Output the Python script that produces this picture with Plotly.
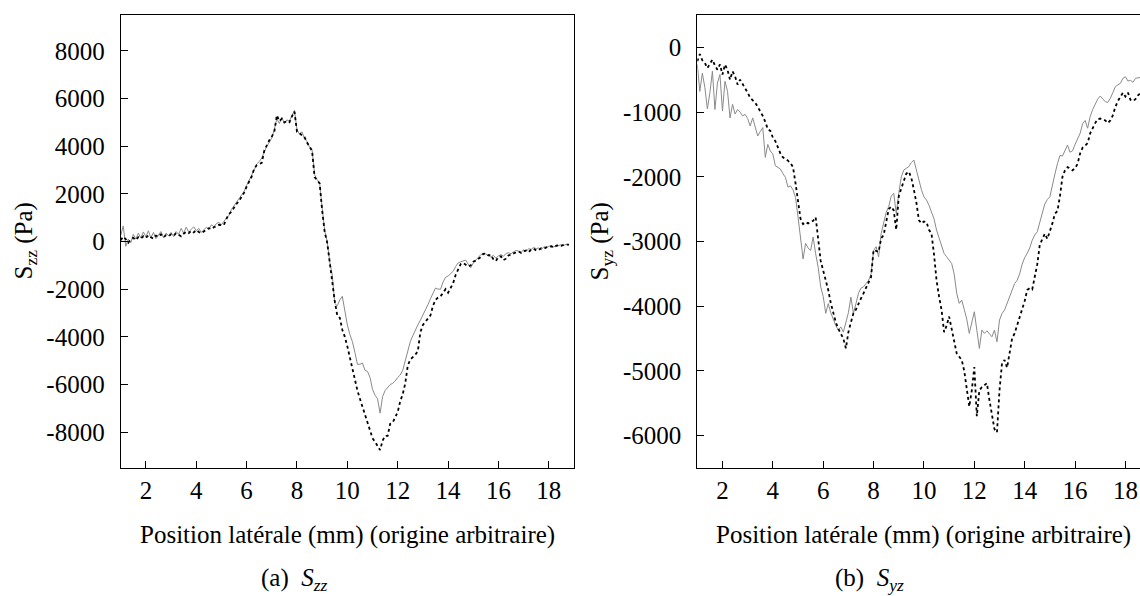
import plotly.graph_objects as go

# Shared sampling positions (mm)
pos_mm = [
    1.0, 1.1, 1.2, 1.3, 1.4, 1.5, 1.6, 1.7, 1.8, 1.9,
    2.0, 2.1, 2.2, 2.3, 2.4, 2.5, 2.6, 2.7, 2.8, 2.9,
    3.0, 3.1, 3.2, 3.3, 3.4, 3.5, 3.6, 3.7, 3.8, 3.9,
    4.0, 4.1, 4.2, 4.3, 4.4, 4.5, 4.6, 4.7, 4.8, 4.9,
    5.0, 5.1, 5.2, 5.3, 5.4, 5.5, 5.6, 5.7, 5.8, 5.9,
    6.0, 6.1, 6.2, 6.3, 6.4, 6.5, 6.6, 6.7, 6.8, 6.9,
    7.0, 7.1, 7.2, 7.3, 7.4, 7.5, 7.6, 7.7, 7.8, 7.9,
    8.0, 8.1, 8.2, 8.3, 8.4, 8.5, 8.6, 8.7, 8.8, 8.9,
    9.0, 9.1, 9.2, 9.3, 9.4, 9.5, 9.6, 9.7, 9.8, 9.9,
    10.0, 10.1, 10.2, 10.3, 10.4, 10.5, 10.6, 10.7, 10.8, 10.9,
    11.0, 11.1, 11.2, 11.3, 11.4, 11.5, 11.6, 11.7, 11.8, 11.9,
    12.0, 12.1, 12.2, 12.3, 12.4, 12.5, 12.6, 12.7, 12.8, 12.9,
    13.0, 13.1, 13.2, 13.3, 13.4, 13.5, 13.6, 13.7, 13.8, 13.9,
    14.0, 14.1, 14.2, 14.3, 14.4, 14.5, 14.6, 14.7, 14.8, 14.9,
    15.0, 15.1, 15.2, 15.3, 15.4, 15.5, 15.6, 15.7, 15.8, 15.9,
    16.0, 16.1, 16.2, 16.3, 16.4, 16.5, 16.6, 16.7, 16.8, 16.9,
    17.0, 17.1, 17.2, 17.3, 17.4, 17.5, 17.6, 17.7, 17.8, 17.9,
    18.0, 18.1, 18.2, 18.3, 18.4, 18.5, 18.6, 18.7, 18.8,
]

# (a) S_zz, dotted black curve (Pa)
szz_dotted = [
    50, 200, 100, -50, 80, 150, 60, 180, 120, 220,
    150, 260, 180, 120, 250, 200, 300, 180, 260, 220,
    300, 240, 350, 280, 220, 330, 400, 350, 450, 380,
    480, 400, 350, 420, 500, 560, 520, 600, 640, 700,
    680, 700, 950, 1150, 1250, 1420, 1580, 1700, 1880, 2050,
    2300, 2500, 2720, 3050, 3200, 3250, 3300, 3800, 4050, 4250,
    4400, 4600, 5300, 5050, 5150, 5000, 5050, 5000, 5250, 5450,
    4600, 4550, 4450, 4380, 4150, 3950, 3800, 2700, 2550, 2440,
    1300, 400, -50, -900, -1500, -2500, -3100, -3200, -3700, -4000,
    -4400, -4900, -5350, -5900, -6250, -6600, -6950, -7300, -7650, -8000,
    -8250, -8400, -8550, -8750, -8350, -8150, -8150, -7650, -7600, -7350,
    -7150, -6700, -6400, -5950, -5200, -4950, -4850, -4750, -4600, -3800,
    -3500, -3350, -3200, -3100, -2700, -2450, -2350, -2300, -2150, -2000,
    -2150, -1950, -1750, -1400, -1150, -950, -900, -980, -1050, -1000,
    -850, -800, -720, -650, -520, -500, -580, -560, -750, -820,
    -640, -620, -780, -720, -580, -560, -500, -450, -420, -480,
    -400, -380, -450, -330, -300, -380, -350, -280, -300, -250,
    -230, -200, -260, -180, -150, -180, -140, -120, -130,
]

# (a) S_zz, solid grey curve (Pa)
szz_solid = [
    250, 650, -200, 100, -50, 300, 100, 350, 150, 400,
    200, 450, 150, 380, 120, 300, 420, 150, 350, 250,
    380, 200, 420, 300, 550, 350, 600, 400, 500, 620,
    450, 550, 380, 480, 600, 520, 700, 620, 750, 800,
    700, 850, 1000, 1100, 1350, 1500, 1600, 1750, 1900, 2100,
    2350, 2550, 2800, 3000, 3250, 3350, 3500, 3750, 4000, 4150,
    4350, 4700, 5150, 4950, 5200, 4950, 5100, 5050, 5300, 5500,
    4700, 4500, 4600, 4300, 4200, 3950, 3850, 2800, 2600, 2450,
    1400, 450, 0, -850, -1400, -2600, -2700, -2450, -2300, -3000,
    -3500, -3900, -4200, -4650, -5150, -5150, -5100, -5400, -5450, -5700,
    -6200, -6450, -6600, -7200, -6500, -6250, -6100, -6000, -5950, -5850,
    -5700, -5600, -5400, -5000, -4600, -4200, -3950, -3700, -3500, -3300,
    -3100, -2850, -2650, -2400, -2150, -1950, -2000, -2000, -1700, -1500,
    -1450, -1350, -1250, -1050, -900, -850, -800, -780, -950, -1100,
    -900, -780, -700, -550, -500, -520, -600, -650, -580, -700,
    -600, -550, -620, -500, -470, -520, -430, -380, -400, -450,
    -350, -420, -300, -330, -250, -300, -270, -350, -220, -250,
    -200, -180, -230, -150, -170, -130, -160, -120, -140,
]

# (b) S_yz, dotted black curve (Pa)
syz_dotted = [
    -215, -105, -200, -240, -320, -250, -190, -280, -345, -265,
    -420, -265, -350, -500, -370, -450, -575, -500, -560, -625,
    -700, -780, -820, -855, -920, -985, -1060, -1150, -1266, -1290,
    -1395, -1450, -1540, -1640, -1700, -1720, -1750, -1790, -1850, -2100,
    -2370, -2650, -2730, -2700, -2720, -2700, -2680, -2625, -2980, -3300,
    -3450, -3600, -3750, -3950, -4100, -4250, -4350, -4420, -4500, -4650,
    -4400, -4250, -4110, -4050, -3950, -3880, -3800, -3720, -3650, -3550,
    -3130, -3140, -3160, -2950, -2900, -2700, -2500, -2460, -2520, -2820,
    -2300, -2180, -2050, -1950, -1920, -2020, -2200, -2400, -2670, -2720,
    -2690, -2700, -2820, -2880, -3200, -3600, -3850, -4060, -4400, -4300,
    -4160, -4370, -4550, -4730, -4780, -4830, -5000, -5300, -5550, -5300,
    -4940, -5700, -5300, -5250, -5220, -5190, -5450, -5700, -5900, -5950,
    -5300, -4880, -4830, -4950, -4700, -4500, -4420, -4300, -4150, -4050,
    -3920, -3750, -3720, -3740, -3550, -3350, -3050, -2950, -2880, -2960,
    -2850, -2720, -2570, -2530, -2300, -2000, -1900, -1850, -1870, -1900,
    -1870, -1800, -1640, -1550, -1520, -1480, -1330, -1240, -1170, -1110,
    -1100, -1110, -1130, -1170, -1130, -1050, -920, -830, -760, -700,
    -760, -700, -810, -830, -800, -740, -710, -700, -690,
]

# (b) S_yz, solid grey curve (Pa)
syz_solid = [
    -265, -680, -400, -620, -950, -700, -370, -960, -550, -420,
    -985, -525, -680, -1090, -880, -1030, -960, -1000, -1060, -1035,
    -1100, -1215, -1090, -1240, -1370, -1300, -1240, -1700, -1500, -1600,
    -1650, -1830, -1850, -1880, -1950, -2010, -2160, -2140, -2200, -2320,
    -2620, -2980, -3270, -3030, -3100, -3140, -2930, -3190, -3400, -3700,
    -3850, -4110, -3960, -4100, -4210, -4300, -4370, -4320, -4400, -4270,
    -4100, -3860, -4110, -3960, -3800, -3720, -3700, -3650, -3600, -3500,
    -3140, -3080, -3240, -2880, -2700, -2550, -2460, -2300, -2256, -2565,
    -2256, -2000, -1895, -1870, -1843, -1780, -1741, -1895, -2050, -2200,
    -2310, -2359, -2440, -2540, -2650, -2823, -2950, -3060, -3184, -3236,
    -3280, -3339, -3500, -3800, -3956, -3905, -4050, -4200, -4420, -4266,
    -4085, -4369, -4652, -4369, -4420, -4380, -4420, -4472, -4369, -4550,
    -4214, -4111, -4060, -3956, -3850, -3750, -3650, -3600, -3500, -3350,
    -3250, -3184, -3100, -2980, -2900, -2850, -2680, -2560, -2420, -2350,
    -2310, -2120, -1960, -1800, -1670, -1680, -1600, -1510, -1620, -1600,
    -1500, -1420, -1330, -1180, -1130, -1250, -1070, -960, -865, -800,
    -752, -790, -840, -850, -788, -700, -608, -580, -556, -480,
    -453, -520, -510, -540, -479, -470, -464, -470, -460,
]

x_ticks = [2, 4, 6, 8, 10, 12, 14, 16, 18]
szz_ticks = [-8000, -6000, -4000, -2000, 0, 2000, 4000, 6000, 8000]
syz_ticks = [-6000, -5000, -4000, -3000, -2000, -1000, 0]

x_title = "Position latérale (mm) (origine arbitraire)"
FONT = "'Liberation Serif', 'Times New Roman', Times, 'DejaVu Serif', serif"
W, H = 1140, 596
TOP, BOTTOM = 15, 468
L1, R1 = 120.7, 574.0
L2 = 697.3

fig = go.Figure()
fig.add_trace(go.Scatter(x=pos_mm, y=szz_solid, mode="lines",
                         line=dict(color="#8a8a8a", width=1), xaxis="x", yaxis="y"))
fig.add_trace(go.Scatter(x=pos_mm, y=szz_dotted, mode="lines",
                         line=dict(color="black", width=1.8, dash="dot"), xaxis="x", yaxis="y"))
fig.add_trace(go.Scatter(x=pos_mm, y=syz_solid, mode="lines",
                         line=dict(color="#8a8a8a", width=1), xaxis="x2", yaxis="y2"))
fig.add_trace(go.Scatter(x=pos_mm, y=syz_dotted, mode="lines",
                         line=dict(color="black", width=1.8, dash="dot"), xaxis="x2", yaxis="y2"))

axis_common = dict(showgrid=False, zeroline=False, showline=True, linecolor="black",
                   linewidth=1, ticks="inside", ticklen=7, tickwidth=1, tickcolor="black",
                   tickfont=dict(family=FONT, size=25, color="black"), tickmode="array")

fig.update_layout(
    width=W, height=H,
    margin=dict(l=0, r=0, t=TOP, b=H - BOTTOM, pad=0),
    paper_bgcolor="white", plot_bgcolor="white",
    showlegend=False,
    font=dict(family=FONT, color="black"),
    xaxis=dict(domain=[L1 / W, R1 / W], range=[1, 19], mirror=True,
               tickvals=x_ticks, ticktext=[str(v) for v in x_ticks],
               ticklabelstandoff=0, anchor="y", **axis_common),
    yaxis=dict(domain=[0, 1], range=[-9500, 9500], mirror=True,
               tickvals=szz_ticks, ticktext=[str(v) for v in szz_ticks],
               ticklabelstandoff=10, anchor="x", **axis_common),
    xaxis2=dict(domain=[L2 / W, 1.0], range=[1, 1 + (W - L2) / ((R1 - L1) / 18)], mirror=True,
                tickvals=x_ticks, ticktext=[str(v) for v in x_ticks],
                ticklabelstandoff=0, anchor="y2", **axis_common),
    yaxis2=dict(domain=[0, 1], range=[-6500, 500], mirror=False,
                tickvals=syz_ticks, ticktext=[str(v) for v in syz_ticks],
                ticklabelstandoff=10, anchor="x2", **axis_common),
)

def py(px):
    return (BOTTOM - px) / (BOTTOM - TOP)

annots = [
    dict(text=x_title, x=(L1 + R1) / 2 / W, y=py(535)),
    dict(text=x_title, x=(L2 + L2 + (R1 - L1)) / 2 / W, y=py(535)),
    dict(text="S<sub>zz</sub> (Pa)", x=25 / W, y=py((TOP + BOTTOM) / 2), textangle=-90),
    dict(text="S<sub>yz</sub> (Pa)", x=601 / W, y=py((TOP + BOTTOM) / 2), textangle=-90),
]
for a in annots:
    fig.add_annotation(xref="paper", yref="paper", showarrow=False,
                       xanchor="center", yanchor="middle",
                       font=dict(family=FONT, size=25, color="black"), **a)

captions = [
    dict(text="(a)&nbsp;&nbsp;<i>S</i><sub><i>zz</i></sub>", x=294 / W),
    dict(text="(b)&nbsp;&nbsp;<i>S</i><sub><i>yz</i></sub>", x=869 / W),
]
for c in captions:
    fig.add_annotation(xref="paper", yref="paper", showarrow=False, y=py(579),
                       xanchor="center", yanchor="middle",
                       font=dict(family=FONT, size=25, color="black"), **c)

fig.write_html(
    "out.html",
    config={"displayModeBar": False},
    post_script="document.body.style.margin='0';document.body.style.overflow='hidden';",
)
